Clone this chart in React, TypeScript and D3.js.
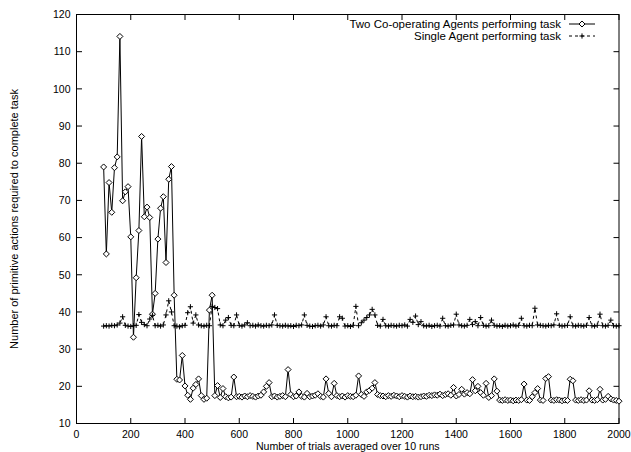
import React from 'react'
import * as d3 from 'd3'

// trials 100..2000, one sample every 10 trials
const trials = d3.range(100, 2001, 10)

// Two Co-operating Agents performing task
const twoAgents = [
  79.0, 55.6, 74.8, 66.8, 78.8, 81.7, 114.1, 69.9, 72.3, 73.7,
  60.2, 33.2, 49.2, 61.9, 87.2, 65.6, 68.2, 65.4, 39.4, 45.0,
  59.6, 67.9, 71.0, 53.3, 75.7, 79.1, 44.5, 21.9, 21.7, 28.3,
  20.1, 17.6, 16.5, 19.5, 20.5, 22.0, 17.5, 16.5, 16.8, 40.5,
  44.5, 17.5, 20.2, 17.0, 19.4, 17.2, 16.9, 17.1, 22.5, 17.2,
  17.3, 17.1, 17.4, 17.2, 17.5, 17.3, 17.1, 17.4, 17.6, 18.5,
  20.0, 21.0, 17.2, 17.4, 17.1, 17.3, 17.5, 17.2, 24.5, 17.8,
  17.2, 17.4, 18.5, 17.3, 17.1, 18.1, 17.2, 17.4, 17.6, 18.0,
  17.3, 17.1, 22.0, 18.1, 17.2, 20.8, 17.5, 17.2, 17.4, 17.1,
  17.5, 17.3, 17.2, 17.6, 22.8, 17.8, 17.3, 18.5, 18.9, 19.5,
  21.0, 17.8, 17.5, 17.4, 17.2, 17.5, 17.3, 17.6, 17.4, 17.2,
  17.5, 17.3, 17.1, 17.4, 17.2, 17.3, 17.1, 17.2, 17.4, 17.3,
  17.6, 17.5, 17.7, 17.6, 17.9, 17.5, 17.8, 18.0, 17.6, 19.7,
  17.4, 17.8, 19.2, 17.9, 18.3, 18.0, 21.8, 18.8, 20.0, 18.3,
  17.6, 20.8, 17.0, 17.5, 22.0, 18.7, 16.3, 16.2, 16.4, 16.2,
  16.3, 16.1, 16.3, 16.2, 16.4, 20.6, 16.3, 16.2, 17.2, 18.3,
  19.4, 16.3, 16.2, 22.1, 22.6, 16.3, 16.2, 16.4, 16.3, 16.1,
  16.3, 16.2, 21.9, 21.5, 16.3, 16.2, 16.4, 16.2, 16.3, 18.8,
  16.3, 16.2, 16.4, 19.2, 16.3, 16.5, 17.3, 16.6, 16.3, 16.2,
  16.0,
]

// Single Agent performing task
const singleAgent = [
  36.2, 36.3, 36.2, 36.4, 36.3, 36.5, 37.0, 38.7, 36.4, 36.2,
  36.1, 36.3, 36.4, 39.3, 37.2, 36.6, 36.3, 38.1, 39.1, 36.3,
  36.4, 36.2, 36.5, 39.2, 43.0, 40.0, 36.3, 36.2, 36.0, 36.3,
  36.4, 39.8, 41.4, 37.0, 39.2, 36.5, 36.3, 36.2, 36.4, 36.3,
  41.5, 41.2, 40.9, 36.5, 36.3, 37.8, 38.5, 36.4, 36.3, 39.2,
  36.4, 36.2, 36.5, 37.1, 36.3, 36.4, 36.2, 36.5, 36.3, 36.2,
  36.4, 36.3, 36.5, 39.2, 36.4, 36.3, 36.2, 36.4, 36.2, 36.3,
  36.1, 36.4, 36.3, 36.5, 39.2, 36.4, 36.2, 36.1, 36.3, 36.4,
  36.2, 36.5, 38.7, 36.3, 36.2, 36.4, 36.3, 38.7, 38.3, 36.2,
  36.3, 36.1, 36.4, 41.5, 36.3, 37.1, 37.8, 38.5, 39.2, 40.7,
  39.2, 36.4, 36.2, 38.0, 36.3, 36.2, 36.4, 36.3, 36.2, 36.4,
  36.3, 36.5, 36.2, 38.0, 37.2, 38.9, 36.6, 37.4, 36.3, 36.2,
  36.4, 36.1, 36.3, 36.4, 36.2, 38.3, 36.3, 36.2, 36.4, 36.5,
  39.4, 36.5, 36.3, 36.2, 36.4, 38.0, 36.6, 37.4, 36.3, 38.5,
  36.4, 36.2, 36.3, 37.8, 36.4, 36.2, 36.3, 36.1, 36.4, 36.2,
  36.3, 36.5, 36.2, 36.4, 38.3, 36.3, 36.2, 36.4, 36.3, 41.0,
  36.5, 36.4, 36.3, 36.2, 36.4, 36.3, 36.5, 39.5, 36.4, 36.2,
  36.3, 36.4, 38.7, 36.3, 36.2, 36.4, 36.3, 36.2, 36.4, 38.5,
  36.3, 36.2, 36.4, 39.4, 36.3, 36.2, 36.4, 37.8, 36.3, 36.2,
  36.3,
]

const xTicks = [0, 200, 400, 600, 800, 1000, 1200, 1400, 1600, 1800, 2000]
const yTicks = [10, 20, 30, 40, 50, 60, 70, 80, 90, 100, 110, 120]

const seriesLabels = ['Two Co-operating Agents performing task', 'Single Agent performing task']

const W = 631
const H = 452
const left = 76.5
const right = 619
const top = 14.5
const bottom = 423.5
const tick = 5.5
const font = '"Liberation Sans", Arial, Helvetica, sans-serif'

const diamond = (x: number, y: number, r = 3) =>
  `M${x},${y - r}L${x + r},${y}L${x},${y + r}L${x - r},${y}Z`
const plus = (x: number, y: number, r = 2.6) =>
  `M${x - r},${y}H${x + r}M${x},${y - r}V${y + r}`

export default function App() {
  const x = d3.scaleLinear().domain([0, 2000]).range([left, right])
  const y = d3.scaleLinear().domain([10, 120]).range([bottom, top])

  const line = d3.line<number>()
    .x((d, i) => x(trials[i]))
    .y(d => y(d))

  return (
    <svg width={W} height={H} style={{ position: 'absolute', left: 0, top: 0, background: '#fff' }}
      fontFamily={font}>
      {/* ticks, mirrored inside the frame */}
      {xTicks.map(t => (
        <g key={'x' + t}>
          <line x1={x(t)} x2={x(t)} y1={bottom} y2={bottom - tick} stroke="#000" />
          <line x1={x(t)} x2={x(t)} y1={top} y2={top + tick} stroke="#000" />
          <text x={x(t)} y={438} fontSize={10.5} textAnchor="middle">{t}</text>
        </g>
      ))}
      {yTicks.map(t => (
        <g key={'y' + t}>
          <line x1={left} x2={left + tick} y1={y(t)} y2={y(t)} stroke="#000" />
          <line x1={right} x2={right - tick} y1={y(t)} y2={y(t)} stroke="#000" />
          <text x={left - 6} y={y(t) + 3.8} fontSize={10.5} textAnchor="end">{t}</text>
        </g>
      ))}
      <rect x={left} y={top} width={right - left} height={bottom - top} fill="none" stroke="#000" />

      {/* axis titles */}
      <text x={(left + right) / 2} y={450} fontSize={10.6} textAnchor="middle">
        Number of trials averaged over 10 runs
      </text>
      <text transform={`translate(17.5,${(top + bottom) / 2}) rotate(-90)`} fontSize={11} textAnchor="middle">
        Number of primitive actions required to complete task
      </text>

      {/* two agents: solid + diamonds */}
      <path d={line(twoAgents) || ''} fill="none" stroke="#000" strokeWidth={1} />
      {twoAgents.map((v, i) => (
        <path key={'d' + i} d={diamond(x(trials[i]), y(v))} fill="#fff" stroke="#000" strokeWidth={1} />
      ))}

      {/* single agent: dashed + plus */}
      <path d={line(singleAgent) || ''} fill="none" stroke="#000" strokeWidth={1} strokeDasharray="3,3" />
      {singleAgent.map((v, i) => (
        <path key={'p' + i} d={plus(x(trials[i]), y(v))} fill="none" stroke="#000" strokeWidth={1} />
      ))}

      {/* legend */}
      <g fontSize={11.5}>
        <text x={561} y={28} textAnchor="end">{seriesLabels[0]}</text>
        <line x1={569} x2={595} y1={24} y2={24} stroke="#000" />
        <path d={diamond(582, 24)} fill="#fff" stroke="#000" />
        <text x={561} y={40} textAnchor="end">{seriesLabels[1]}</text>
        <line x1={569} x2={595} y1={36} y2={36} stroke="#000" strokeDasharray="3,3" />
        <path d={plus(582, 36)} fill="none" stroke="#000" />
      </g>
    </svg>
  )
}
